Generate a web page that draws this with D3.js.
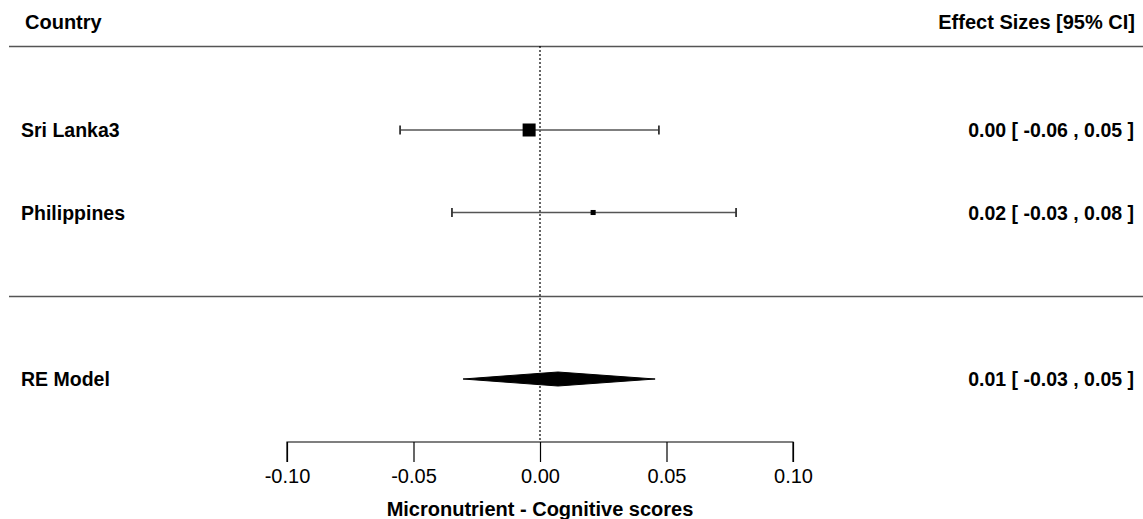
<!DOCTYPE html>
<html>
<head>
<meta charset="utf-8">
<script src="https://cdn.jsdelivr.net/npm/d3@7"></script>
<style>
  html, body { margin: 0; padding: 0; background: #fff; }
  svg { display: block; }
  text { font-family: "Liberation Sans", Arial, sans-serif; fill: #000; }
</style>
</head>
<body>
<svg id="chart" width="1143" height="519"></svg>
<script>
// ---- data ----
const studies = ["Sri Lanka3", "Philippines"];
const estimates = [-0.0043, 0.021];
const ciLower = [-0.0553, -0.0348];
const ciUpper = [0.047, 0.0775];
const weights = [0.72, 0.28];
const effectLabels = ["0.00 [ -0.06 , 0.05 ]", "0.02 [ -0.03 , 0.08 ]"];

const reLabel = "RE Model";
const reEstimate = 0.0071;
const reLower = -0.0304;
const reUpper = 0.0455;
const reEffectLabel = "0.01 [ -0.03 , 0.05 ]";

const tickValues = [-0.10, -0.05, 0.00, 0.05, 0.10];
const xTitle = "Micronutrient - Cognitive scores";
const headerLeft = "Country";
const headerRight = "Effect Sizes [95% CI]";

// ---- layout ----
const svg = d3.select("#chart");

const x = d3.scaleLinear().domain([-0.1, 0.1]).range([287, 793]);
const y = d3.scaleLinear().domain([0, 1]).range([130, 212.5]);
const yRE = 379;
const size = d3.scaleLinear().domain([0, d3.max(weights)]).range([0, 13]);

const lineColor = "#555";
const leftX = 9, rightX = 1143;
const textRight = 1134;
const labelSize = 19.5;

// header lines
svg.append("line").attr("x1", leftX).attr("x2", rightX).attr("y1", 46.5).attr("y2", 46.5)
  .attr("stroke", lineColor).attr("stroke-width", 1.6);
svg.append("line").attr("x1", leftX).attr("x2", rightX).attr("y1", 296.5).attr("y2", 296.5)
  .attr("stroke", lineColor).attr("stroke-width", 1.6);

// reference line at 0
svg.append("line").attr("x1", x(0)).attr("x2", x(0)).attr("y1", 46).attr("y2", 442)
  .attr("stroke", "#000").attr("stroke-width", 1.2).attr("stroke-dasharray", "2,2");

// headers
svg.append("text").attr("x", 25).attr("y", 29).attr("font-weight", "bold").attr("font-size", 20)
  .text(headerLeft);
svg.append("text").attr("x", textRight + 1).attr("y", 29).attr("font-weight", "bold").attr("font-size", 20)
  .attr("text-anchor", "end").text(headerRight);

// study rows
const rows = svg.append("g").selectAll("g").data(studies).join("g");
rows.append("line")
  .attr("x1", (d, i) => x(ciLower[i])).attr("x2", (d, i) => x(ciUpper[i]))
  .attr("y1", (d, i) => y(i)).attr("y2", (d, i) => y(i))
  .attr("stroke", lineColor).attr("stroke-width", 1.5);
rows.append("line")
  .attr("x1", (d, i) => x(ciLower[i])).attr("x2", (d, i) => x(ciLower[i]))
  .attr("y1", (d, i) => y(i) - 4.5).attr("y2", (d, i) => y(i) + 4.5)
  .attr("stroke", "#333").attr("stroke-width", 1.8);
rows.append("line")
  .attr("x1", (d, i) => x(ciUpper[i])).attr("x2", (d, i) => x(ciUpper[i]))
  .attr("y1", (d, i) => y(i) - 4.5).attr("y2", (d, i) => y(i) + 4.5)
  .attr("stroke", "#333").attr("stroke-width", 1.8);
rows.append("rect")
  .attr("x", (d, i) => x(estimates[i]) - size(weights[i]) / 2)
  .attr("y", (d, i) => y(i) - size(weights[i]) / 2)
  .attr("width", (d, i) => size(weights[i]))
  .attr("height", (d, i) => size(weights[i]))
  .attr("fill", "#000");
rows.append("text").attr("x", 21).attr("y", (d, i) => y(i) + 7)
  .attr("font-weight", "bold").attr("font-size", labelSize).text(d => d);
rows.append("text").attr("x", textRight).attr("y", (d, i) => y(i) + 7)
  .attr("text-anchor", "end").attr("font-weight", "bold").attr("font-size", labelSize)
  .text((d, i) => effectLabels[i]);

// RE model diamond
const dh = 7;
svg.append("polygon")
  .attr("points", [
    [x(reLower), yRE], [x(reEstimate), yRE - dh], [x(reUpper), yRE], [x(reEstimate), yRE + dh]
  ].map(p => p.join(",")).join(" "))
  .attr("fill", "#000").attr("stroke", "#000").attr("stroke-width", 1);
svg.append("text").attr("x", 21).attr("y", yRE + 7).attr("font-weight", "bold").attr("font-size", labelSize)
  .text(reLabel);
svg.append("text").attr("x", textRight).attr("y", yRE + 7).attr("text-anchor", "end")
  .attr("font-weight", "bold").attr("font-size", labelSize).text(reEffectLabel);

// axis
const axis = d3.axisBottom(x).tickValues(tickValues).tickFormat(d3.format(".2f")).tickSize(20).tickPadding(7);
const gAxis = svg.append("g").attr("transform", "translate(0,442)").call(axis);
gAxis.select(".domain").attr("d", `M${x(-0.1)},20V0H${x(0.1)}V20`).attr("stroke", "#000").attr("stroke-width", 1.2);
gAxis.selectAll(".tick line").attr("stroke", "#000").attr("stroke-width", 1.2);
gAxis.selectAll(".tick text").attr("font-size", 20).attr("font-family", "Liberation Sans, Arial, sans-serif")
  .attr("fill", "#000").text(d => d3.format(".2f")(d).replace("−", "-"));

svg.append("text").attr("x", x(0)).attr("y", 516).attr("text-anchor", "middle")
  .attr("font-weight", "bold").attr("font-size", 20).text(xTitle);
</script>
</body>
</html>
